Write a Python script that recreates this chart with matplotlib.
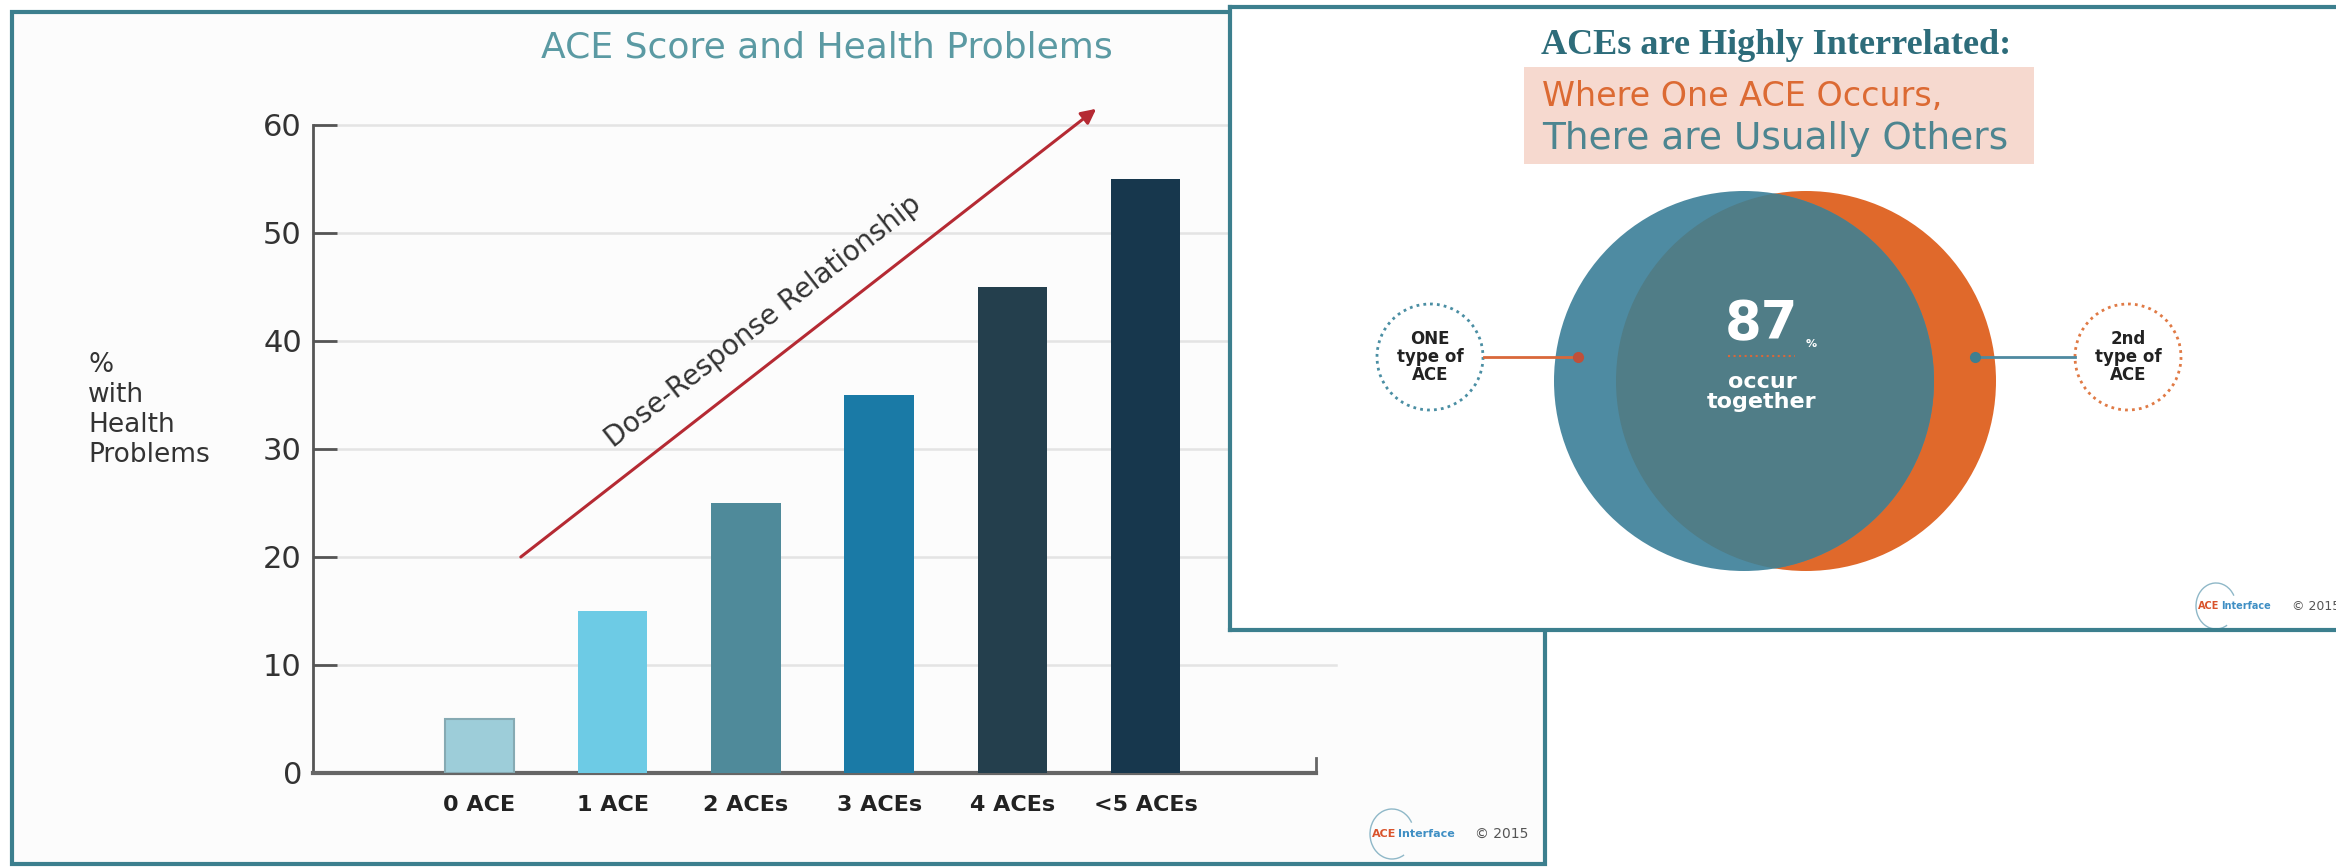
import math
import matplotlib
matplotlib.use("Agg")
import matplotlib.pyplot as plt
from matplotlib.patches import Rectangle, Circle, Arc

W, H = 2336, 867

# left slide data
categories = ["0 ACE", "1 ACE", "2 ACEs", "3 ACEs", "4 ACEs", "<5 ACEs"]
pct_with_problems = [5, 15, 25, 35, 45, 55]
y_ticks = [0, 10, 20, 30, 40, 50, 60]

# right slide data
overlap_pct = 87

bar_colors = ["#9dcdd9", "#6dcbe5", "#4f8a9a", "#1a7aa6", "#243f4d", "#17374d"]
TEAL = "#3c7f8e"


def main():
    fig = plt.figure(figsize=(W / 100, H / 100), dpi=100)
    fig.patch.set_facecolor("white")

    # background: left slide frame, title, y label, logo (pixel coords)
    bg = fig.add_axes([0, 0, 1, 1])
    bg.set_xlim(0, W)
    bg.set_ylim(H, 0)
    bg.axis("off")
    bg.add_patch(Rectangle((12, 12), 1533, 852, fc="#fcfcfc", ec=TEAL, lw=3))
    bg.text(827, 48, "ACE Score and Health Problems", fontsize=26,
            color="#5b9aa3", ha="center", va="center")
    bg.text(88, 410, "%\nwith\nHealth\nProblems", fontsize=19, color="#333333",
            ha="left", va="center", linespacing=1.2)
    bg.add_patch(Arc((1392, 834), 44, 50, theta1=60, theta2=330, color="#8fb8c8", lw=1))
    bg.text(1372, 834, "ACE", fontsize=8, fontweight="bold", color="#d9532b", va="center")
    bg.text(1398, 834, "Interface", fontsize=8, fontweight="bold", color="#3f8fc4", va="center")
    bg.text(1475, 834, "© 2015", fontsize=10, color="#555555", va="center")

    # bar chart
    ax = fig.add_axes([313 / W, (H - 773) / H, 1003 / W, 648 / H])
    ax.set_zorder(2)
    ax.patch.set_alpha(0)
    x = list(range(len(categories)))
    bars = ax.bar(x, pct_with_problems, width=0.52, color=bar_colors, zorder=3)
    bars[0].set_edgecolor("#86aab3")
    bars[0].set_linewidth(1.5)
    ax.set_xlim(-1.25, 6.28)
    ax.set_ylim(0, 60)
    for y in y_ticks[1:]:
        ax.axhline(y, xmin=0, xmax=1.02, color="#e4e4e4", lw=1.8, zorder=0, clip_on=False)
    ax.set_xticks(x, categories, fontsize=16, fontweight="bold", color="#222222")
    ax.set_yticks(y_ticks)
    ax.tick_params(axis="x", length=0, pad=16)
    ax.tick_params(axis="y", direction="in", length=17, width=2, color="#555555",
                   labelsize=22, pad=8, labelcolor="#333333")
    ax.spines["top"].set_visible(False)
    ax.spines["left"].set_color("#555555")
    ax.spines["left"].set_linewidth(2)
    ax.spines["bottom"].set_color("#666666")
    ax.spines["bottom"].set_linewidth(3)
    ax.spines["right"].set_bounds(0, 1.4)
    ax.spines["right"].set_color("#666666")
    ax.spines["right"].set_linewidth(2)

    # dose-response arrow
    start, end = (0.31, 20), (4.63, 61.5)
    ax.annotate("", xy=end, xytext=start, annotation_clip=False,
                arrowprops=dict(arrowstyle="-|>", color="#b52a33", lw=2.2,
                                mutation_scale=22, shrinkA=0, shrinkB=0))
    p0 = ax.transData.transform(start)
    p1 = ax.transData.transform(end)
    angle = math.degrees(math.atan2(p1[1] - p0[1], p1[0] - p0[0]))
    ax.text(2.13, 41.8, "Dose-Response Relationship", fontsize=20, color="#333333",
            rotation=angle, rotation_mode="anchor", ha="center", va="center")

    # right slide
    rp = fig.add_axes([1230 / W, (H - 630) / H, (W - 1230) / W, 623 / H])
    rp.set_zorder(3)
    rp.set_xlim(1230, W)
    rp.set_ylim(630, 7)
    rp.set_facecolor("white")
    rp.set_xticks([])
    rp.set_yticks([])
    for side in ["left", "top", "bottom"]:
        rp.spines[side].set_color(TEAL)
        rp.spines[side].set_linewidth(3)
    rp.spines["right"].set_visible(False)

    rp.text(1776, 45, "ACEs are Highly Interrelated:", family="Liberation Serif",
            fontweight="bold", fontsize=26, color="#2d6c7a", ha="center", va="center")
    rp.add_patch(Rectangle((1524, 67), 510, 97, fc="#f6d9cf", ec="none"))
    rp.text(1542, 97, "Where One ACE Occurs,", fontsize=24, color="#dc6a33",
            ha="left", va="center")
    rp.text(1542, 139, "There are Usually Others", fontsize=27, color="#4d8590",
            ha="left", va="center")

    orange = Circle((1806, 381), 190, fc="#e0692b", ec="none")
    rp.add_patch(orange)
    rp.add_patch(Circle((1744, 381), 190, fc="#4e8ba2", ec="none"))
    inner = Circle((1744, 381), 190, fc="#507d87", ec="none")
    rp.add_patch(inner)
    inner.set_clip_path(orange)

    rp.text(1762, 324, str(overlap_pct), fontsize=38, fontweight="bold", color="white",
            ha="center", va="center")
    rp.text(1811, 344, "%", fontsize=8, fontweight="bold", color="white",
            ha="center", va="center")
    rp.plot([1728, 1795], [356, 356], color="#d9683a", ls=":", lw=1.5)
    rp.text(1762, 392, "occur\ntogether", fontsize=16, fontweight="bold", color="white",
            ha="center", va="center", linespacing=1.05)

    rp.add_patch(Circle((1430, 357), 53, fill=False, ec="#4a8ea3", ls=(0, (1, 1.5)), lw=2))
    rp.add_patch(Circle((2128, 357), 53, fill=False, ec="#e07a45", ls=(0, (1, 1.5)), lw=2))
    rp.plot([1484, 1578], [357, 357], color="#d9683a", lw=2)
    rp.plot([1578], [357], "o", ms=7, color="#c0503a")
    rp.plot([1975, 2075], [357, 357], color="#4e8aa0", lw=2)
    rp.plot([1975], [357], "o", ms=7, color="#3f7f8f")
    rp.text(1430, 357, "ONE\ntype of\nACE", fontsize=12, fontweight="bold", color="#222222",
            ha="center", va="center", linespacing=1.0)
    rp.text(2128, 357, "2nd\ntype of\nACE", fontsize=12, fontweight="bold", color="#222222",
            ha="center", va="center", linespacing=1.0)

    rp.add_patch(Arc((2216, 606), 40, 46, theta1=60, theta2=330, color="#8fb8c8", lw=1))
    rp.text(2198, 606, "ACE", fontsize=7, fontweight="bold", color="#d9532b", va="center")
    rp.text(2221, 606, "Interface", fontsize=7, fontweight="bold", color="#3f8fc4", va="center")
    rp.text(2292, 606, "© 2015", fontsize=9, color="#555555", va="center")

    fig.savefig("out.png", dpi=100)
    plt.close(fig)


if __name__ == "__main__":
    main()
